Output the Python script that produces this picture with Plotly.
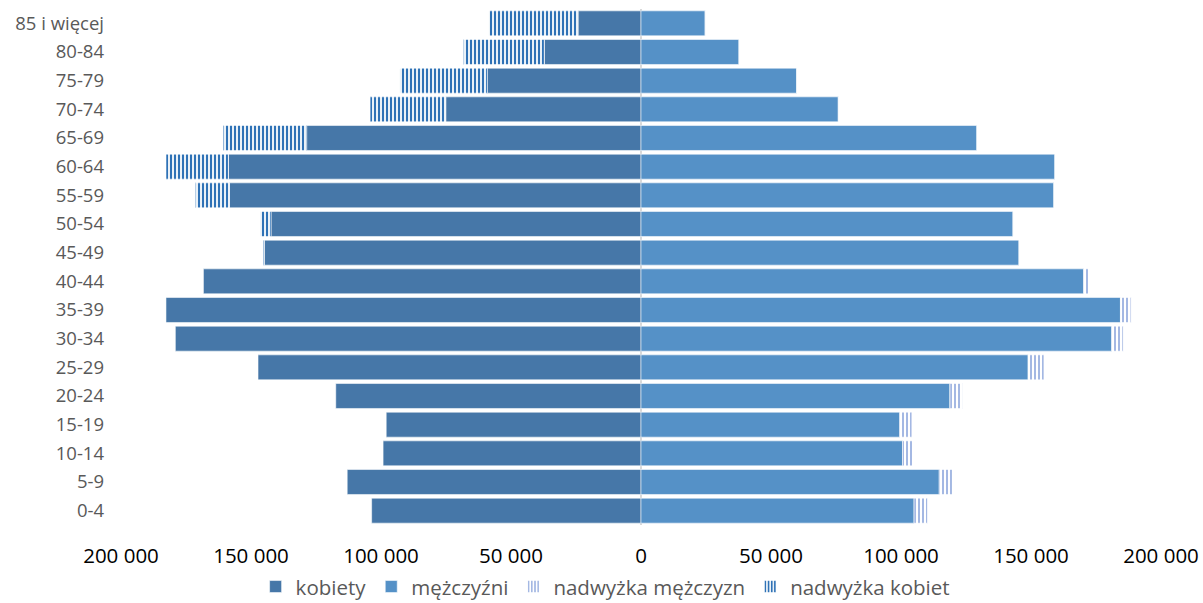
import plotly.graph_objects as go

ages = ["0-4", "5-9", "10-14", "15-19", "20-24", "25-29", "30-34", "35-39", "40-44",
        "45-49", "50-54", "55-59", "60-64", "65-69", "70-74", "75-79", "80-84", "85 i więcej"]

kobiety = [103600, 113000, 99200, 98000, 117400, 147300, 179100, 182700, 168300,
           144900, 142300, 158300, 158700, 128600, 75100, 59100, 37200, 24200]
nadwyzka_kobiet = [0, 0, 0, 0, 0, 0, 0, 0, 0,
                   400, 4200, 13100, 24000, 32100, 29100, 33600, 31100, 34300]
mezczyzni = [105000, 114700, 100600, 99500, 118800, 148900, 181000, 184400, 170200,
             145400, 143100, 158800, 159200, 129200, 75900, 59900, 37700, 24700]
nadwyzka_mezczyzn = [5300, 5100, 4300, 4800, 4900, 6200, 4500, 4100, 2100,
                     0, 0, 0, 0, 0, 0, 0, 0, 0]

tick_vals = [-200000, -150000, -100000, -50000, 0, 50000, 100000, 150000, 200000]
tick_text = ["200 000", "150 000", "100 000", "50 000", "0", "50 000", "100 000", "150 000", "200 000"]

C_K = "#4677A8"
C_M = "#5591C7"
C_NK = "#2F72B6"
C_NM = "#9AB0E0"
edge = dict(color="rgba(255,255,255,0.55)", width=1)

fig = go.Figure()
fig.add_trace(go.Bar(y=ages, x=[-v for v in kobiety], orientation="h", name="kobiety",
                     marker=dict(color=C_K, line=edge)))
fig.add_trace(go.Bar(y=ages, x=mezczyzni, orientation="h", name="mężczyźni",
                     marker=dict(color=C_M, line=edge)))
fig.add_trace(go.Bar(y=ages, x=nadwyzka_mezczyzn, orientation="h", name="nadwyżka mężczyzn",
                     marker=dict(color="white", line=edge,
                                 pattern=dict(shape="|", fgcolor=C_NM, bgcolor="white",
                                              size=4, solidity=0.45, fillmode="replace"))))
fig.add_trace(go.Bar(y=ages, x=[-v for v in nadwyzka_kobiet], orientation="h", name="nadwyżka kobiet",
                     marker=dict(color="white", line=edge,
                                 pattern=dict(shape="|", fgcolor=C_NK, bgcolor="white",
                                              size=4, solidity=0.55, fillmode="replace"))))

fig.update_layout(
    width=1203, height=603,
    margin=dict(l=121, r=42, t=9, b=78),
    barmode="relative", bargap=0.13,
    plot_bgcolor="white", paper_bgcolor="white",
    font=dict(family="Open Sans, sans-serif", color="#595959"),
    showlegend=True,
    legend=dict(orientation="h", xref="container", yref="container",
                x=0.503, xanchor="center", y=0.027, yanchor="middle",
                font=dict(size=20.5, color="#595959"), traceorder="normal",
                itemwidth=30, tracegroupgap=0, bgcolor="rgba(0,0,0,0)"),
)
fig.update_xaxes(range=[-200000, 200000], tickvals=tick_vals, ticktext=tick_text,
                 showgrid=False, zeroline=True, zerolinecolor="#D9D9D9", zerolinewidth=2,
                 showline=False, ticks="", ticklabelstandoff=16, automargin=False,
                 layer="above traces",
                 tickfont=dict(family="Open Sans, sans-serif", size=20.5, color="#000000"))
fig.update_yaxes(categoryorder="array", categoryarray=ages, showgrid=False, showline=False,
                 ticks="", ticklabelstandoff=16, automargin=False,
                 tickfont=dict(family="Open Sans, sans-serif", size=18.5, color="#595959"))

fig.write_html("out.html", config={"displayModeBar": False},
               post_script="document.body.style.margin='0';")
